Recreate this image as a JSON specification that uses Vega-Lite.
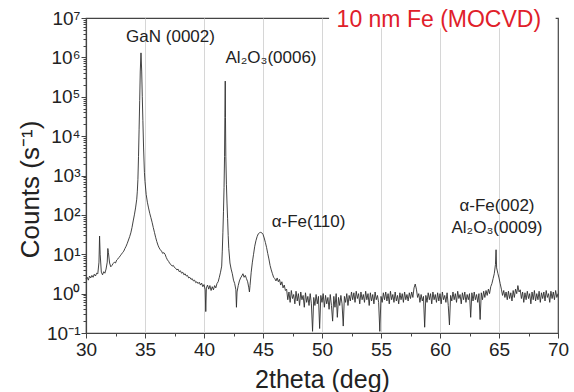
{
  "$schema": "https://vega.github.io/schema/vega-lite/v6.json",
  "width": 472,
  "height": 315,
  "autosize": {"type": "none"},
  "padding": {"left": 86, "top": 18, "right": 16, "bottom": 59},
  "background": "white",
  "config": {"view": {"stroke": "#444444", "strokeWidth": 1.2}, "font": "Liberation Sans"},
  "datasets": {
    "xrd": [
      {"x":30.0,"y":2.4},{"x":30.1,"y":2.6},{"x":30.2,"y":2.2},{"x":30.3,"y":2.8},{"x":30.4,"y":2.5},{"x":30.5,"y":2.9},{"x":30.6,"y":2.6},{"x":30.7,"y":3.1},{"x":30.8,"y":2.8},{"x":30.9,"y":3.3},
      {"x":31.0,"y":3.2},{"x":31.1,"y":6.3},{"x":31.15,"y":29},{"x":31.2,"y":10},{"x":31.3,"y":3.5},{"x":31.4,"y":3.0},{"x":31.5,"y":3.6},{"x":31.6,"y":3.3},{"x":31.7,"y":4.2},{"x":31.8,"y":6.3},{"x":31.85,"y":14},{"x":31.9,"y":11},
      {"x":32.0,"y":6},{"x":32.1,"y":4.8},{"x":32.2,"y":5.2},{"x":32.3,"y":5.8},{"x":32.4,"y":6.3},{"x":32.5,"y":6},{"x":32.6,"y":7.1},{"x":32.7,"y":7.6},{"x":32.8,"y":8.3},{"x":32.9,"y":9.1},
      {"x":33.0,"y":10},{"x":33.1,"y":11},{"x":33.2,"y":12},{"x":33.3,"y":14},{"x":33.4,"y":16},{"x":33.5,"y":19},{"x":33.6,"y":23},{"x":33.7,"y":28},{"x":33.8,"y":35},{"x":33.9,"y":48},
      {"x":34.0,"y":70},{"x":34.1,"y":100},{"x":34.2,"y":150},{"x":34.3,"y":250},{"x":34.35,"y":400},{"x":34.4,"y":800},{"x":34.45,"y":3000},{"x":34.5,"y":15000},{"x":34.55,"y":80000},{"x":34.6,"y":450000},
      {"x":34.66,"y":1300000},{"x":34.72,"y":450000},{"x":34.77,"y":100000},{"x":34.82,"y":25000},{"x":34.88,"y":5000},{"x":34.95,"y":1200},{"x":35.0,"y":700},
      {"x":35.1,"y":330},{"x":35.2,"y":210},{"x":35.3,"y":150},{"x":35.4,"y":110},{"x":35.5,"y":85},{"x":35.6,"y":65},{"x":35.7,"y":48},{"x":35.8,"y":36},{"x":35.9,"y":27},
      {"x":36.0,"y":21},{"x":36.1,"y":17},{"x":36.2,"y":14.5},{"x":36.3,"y":13},{"x":36.4,"y":12},{"x":36.5,"y":10.5},{"x":36.6,"y":11},{"x":36.7,"y":10},{"x":36.8,"y":8.3},{"x":36.9,"y":7.2},
      {"x":37.0,"y":6.6},{"x":37.1,"y":5.8},{"x":37.2,"y":5.5},{"x":37.3,"y":5.0},{"x":37.4,"y":5.2},{"x":37.5,"y":4.6},{"x":37.6,"y":4.4},{"x":37.7,"y":4.0},{"x":37.8,"y":4.2},{"x":37.9,"y":3.6},
      {"x":38.0,"y":3.8},{"x":38.1,"y":3.3},{"x":38.2,"y":3.5},{"x":38.3,"y":3.0},{"x":38.4,"y":3.2},{"x":38.5,"y":2.8},{"x":38.6,"y":2.9},{"x":38.7,"y":2.5},{"x":38.8,"y":2.6},{"x":38.9,"y":2.3},
      {"x":39.0,"y":2.4},{"x":39.1,"y":2.1},{"x":39.2,"y":2.2},{"x":39.3,"y":1.9},{"x":39.4,"y":2.0},{"x":39.5,"y":1.8},{"x":39.6,"y":1.95},{"x":39.7,"y":1.65},{"x":39.8,"y":1.85},{"x":39.9,"y":1.5},
      {"x":40.0,"y":1.7},{"x":40.1,"y":1.25},{"x":40.15,"y":0.35},{"x":40.2,"y":1.4},{"x":40.3,"y":1.65},{"x":40.4,"y":1.3},{"x":40.5,"y":1.6},{"x":40.6,"y":1.2},{"x":40.7,"y":1.5},{"x":40.8,"y":1.25},{"x":40.9,"y":1.6},
      {"x":41.0,"y":1.4},{"x":41.1,"y":1.8},{"x":41.2,"y":2.0},{"x":41.3,"y":2.6},{"x":41.4,"y":3.5},{"x":41.5,"y":5},{"x":41.55,"y":12},{"x":41.6,"y":35},{"x":41.65,"y":120},{"x":41.7,"y":500},
      {"x":41.74,"y":3000},{"x":41.77,"y":30000},{"x":41.8,"y":250000},{"x":41.82,"y":30000},{"x":41.85,"y":3000},{"x":41.9,"y":600},{"x":41.95,"y":200},{"x":42.0,"y":80},{"x":42.05,"y":30},{"x":42.1,"y":14},
      {"x":42.2,"y":6},{"x":42.3,"y":4.2},{"x":42.4,"y":3.2},{"x":42.5,"y":2.2},{"x":42.6,"y":1.8},{"x":42.7,"y":1.25},{"x":42.75,"y":0.45},{"x":42.8,"y":1.1},{"x":42.9,"y":1.6},
      {"x":43.0,"y":2.1},{"x":43.1,"y":2.5},{"x":43.2,"y":2.8},{"x":43.3,"y":3.2},{"x":43.4,"y":2.6},{"x":43.5,"y":2.9},{"x":43.6,"y":2.4},{"x":43.7,"y":2.0},{"x":43.8,"y":1.4},{"x":43.85,"y":1.1},{"x":43.9,"y":1.6},
      {"x":44.0,"y":3.5},{"x":44.1,"y":6.3},{"x":44.2,"y":10},{"x":44.3,"y":16},{"x":44.4,"y":22},{"x":44.5,"y":28},{"x":44.6,"y":33},{"x":44.7,"y":35},{"x":44.8,"y":36},{"x":44.9,"y":35},
      {"x":45.0,"y":32},{"x":45.1,"y":26},{"x":45.2,"y":20},{"x":45.3,"y":15},{"x":45.4,"y":10.5},{"x":45.5,"y":7.6},{"x":45.6,"y":5.2},{"x":45.7,"y":4.0},{"x":45.8,"y":3.2},{"x":45.9,"y":2.6},
      {"x":46.0,"y":2.4},{"x":46.1,"y":2.1},{"x":46.2,"y":2.5},{"x":46.3,"y":2.0},{"x":46.4,"y":2.3},{"x":46.5,"y":1.65},{"x":46.6,"y":2.0},{"x":46.7,"y":1.4},{"x":46.8,"y":1.65},{"x":46.9,"y":1.2},
      {"x":47.0,"y":1.3},{"x":47.1,"y":0.7},{"x":47.2,"y":1.1},{"x":47.3,"y":0.6},{"x":47.4,"y":1.2},{"x":47.5,"y":0.75},{"x":47.6,"y":0.95},{"x":47.7,"y":0.55},{"x":47.8,"y":1.15},{"x":47.9,"y":0.65},
      {"x":48.0,"y":1.0},{"x":48.1,"y":0.5},{"x":48.2,"y":1.1},{"x":48.3,"y":0.7},{"x":48.4,"y":0.9},{"x":48.5,"y":0.45},{"x":48.6,"y":1.05},{"x":48.7,"y":0.6},{"x":48.8,"y":0.85},{"x":48.9,"y":0.5},
      {"x":49.0,"y":1.0},{"x":49.1,"y":0.55},{"x":49.2,"y":0.11},{"x":49.3,"y":0.8},{"x":49.4,"y":0.5},{"x":49.5,"y":0.95},{"x":49.6,"y":0.55},{"x":49.7,"y":0.85},{"x":49.8,"y":0.13},{"x":49.9,"y":0.9},
      {"x":50.0,"y":0.6},{"x":50.1,"y":1.0},{"x":50.2,"y":0.45},{"x":50.3,"y":0.9},{"x":50.4,"y":0.55},{"x":50.5,"y":0.8},{"x":50.6,"y":0.4},{"x":50.7,"y":0.95},{"x":50.8,"y":0.5},{"x":50.9,"y":0.2},
      {"x":51.0,"y":0.85},{"x":51.1,"y":0.45},{"x":51.2,"y":1.0},{"x":51.3,"y":0.25},{"x":51.4,"y":0.8},{"x":51.5,"y":0.5},{"x":51.6,"y":0.9},{"x":51.7,"y":0.55},{"x":51.8,"y":0.15},{"x":51.9,"y":0.85},
      {"x":52.0,"y":0.6},{"x":52.1,"y":1.0},{"x":52.2,"y":0.5},{"x":52.3,"y":0.9},{"x":52.4,"y":0.65},{"x":52.5,"y":1.1},{"x":52.6,"y":0.7},{"x":52.7,"y":1.05},{"x":52.8,"y":0.6},{"x":52.9,"y":1.15},
      {"x":53.0,"y":0.75},{"x":53.1,"y":1.0},{"x":53.2,"y":0.55},{"x":53.3,"y":1.1},{"x":53.4,"y":0.7},{"x":53.5,"y":0.95},{"x":53.6,"y":0.6},{"x":53.7,"y":1.15},{"x":53.8,"y":0.7},{"x":53.9,"y":1.0},
      {"x":54.0,"y":0.5},{"x":54.1,"y":1.05},{"x":54.2,"y":0.65},{"x":54.3,"y":0.95},{"x":54.4,"y":0.55},{"x":54.5,"y":1.1},{"x":54.6,"y":0.7},{"x":54.7,"y":0.9},{"x":54.8,"y":0.6},{"x":54.9,"y":0.11},
      {"x":55.0,"y":0.85},{"x":55.1,"y":0.6},{"x":55.2,"y":1.05},{"x":55.3,"y":0.7},{"x":55.4,"y":1.1},{"x":55.5,"y":0.65},{"x":55.6,"y":1.0},{"x":55.7,"y":0.55},{"x":55.8,"y":1.15},{"x":55.9,"y":0.7},
      {"x":56.0,"y":0.95},{"x":56.1,"y":0.6},{"x":56.2,"y":1.1},{"x":56.3,"y":0.65},{"x":56.4,"y":0.9},{"x":56.5,"y":0.55},{"x":56.6,"y":1.05},{"x":56.7,"y":0.7},{"x":56.8,"y":1.0},{"x":56.9,"y":0.6},
      {"x":57.0,"y":1.1},{"x":57.1,"y":0.7},{"x":57.2,"y":0.95},{"x":57.3,"y":0.65},{"x":57.4,"y":1.05},{"x":57.5,"y":0.75},{"x":57.6,"y":1.1},{"x":57.7,"y":0.8},{"x":57.8,"y":1.4},{"x":57.9,"y":1.75},
      {"x":58.0,"y":1.3},{"x":58.1,"y":0.8},{"x":58.2,"y":1.0},{"x":58.3,"y":0.6},{"x":58.4,"y":0.95},{"x":58.5,"y":0.65},{"x":58.6,"y":0.85},{"x":58.7,"y":0.14},{"x":58.8,"y":0.9},{"x":58.9,"y":0.6},
      {"x":59.0,"y":1.05},{"x":59.1,"y":0.7},{"x":59.2,"y":1.0},{"x":59.3,"y":0.55},{"x":59.4,"y":1.1},{"x":59.5,"y":0.7},{"x":59.6,"y":0.95},{"x":59.7,"y":0.6},{"x":59.8,"y":1.05},{"x":59.9,"y":0.65},
      {"x":60.0,"y":1.0},{"x":60.1,"y":0.55},{"x":60.2,"y":1.1},{"x":60.3,"y":0.7},{"x":60.4,"y":0.9},{"x":60.5,"y":0.6},{"x":60.6,"y":1.05},{"x":60.7,"y":0.5},{"x":60.8,"y":0.16},{"x":60.9,"y":0.9},
      {"x":61.0,"y":0.65},{"x":61.1,"y":1.1},{"x":61.2,"y":0.7},{"x":61.3,"y":1.0},{"x":61.4,"y":0.6},{"x":61.5,"y":1.15},{"x":61.6,"y":0.75},{"x":61.7,"y":0.95},{"x":61.8,"y":0.55},{"x":61.9,"y":1.05},
      {"x":62.0,"y":0.7},{"x":62.1,"y":1.1},{"x":62.2,"y":0.6},{"x":62.3,"y":0.95},{"x":62.4,"y":0.7},{"x":62.5,"y":1.0},{"x":62.6,"y":0.25},{"x":62.7,"y":1.05},{"x":62.8,"y":0.65},{"x":62.9,"y":1.1},
      {"x":63.0,"y":0.7},{"x":63.1,"y":0.95},{"x":63.2,"y":0.6},{"x":63.3,"y":1.0},{"x":63.4,"y":0.22},{"x":63.5,"y":1.05},{"x":63.6,"y":0.7},{"x":63.7,"y":1.15},{"x":63.8,"y":0.8},{"x":63.9,"y":1.2},
      {"x":64.0,"y":0.9},{"x":64.1,"y":1.3},{"x":64.2,"y":1.0},{"x":64.3,"y":1.5},{"x":64.4,"y":1.8},{"x":64.5,"y":2.4},{"x":64.6,"y":3.2},{"x":64.7,"y":5.5},{"x":64.75,"y":13},{"x":64.8,"y":4.5},{"x":64.9,"y":3.3},
      {"x":65.0,"y":2.5},{"x":65.1,"y":1.8},{"x":65.2,"y":1.3},{"x":65.3,"y":0.9},{"x":65.4,"y":1.2},{"x":65.5,"y":0.8},{"x":65.6,"y":1.1},{"x":65.7,"y":0.7},{"x":65.8,"y":1.15},{"x":65.9,"y":0.75},
      {"x":66.0,"y":1.05},{"x":66.1,"y":0.65},{"x":66.2,"y":1.2},{"x":66.3,"y":0.8},{"x":66.4,"y":1.3},{"x":66.5,"y":1.0},{"x":66.6,"y":1.6},{"x":66.7,"y":1.1},{"x":66.8,"y":1.25},{"x":66.9,"y":0.75},
      {"x":67.0,"y":1.1},{"x":67.1,"y":0.6},{"x":67.2,"y":1.05},{"x":67.3,"y":0.7},{"x":67.4,"y":1.15},{"x":67.5,"y":0.75},{"x":67.6,"y":1.0},{"x":67.7,"y":0.55},{"x":67.8,"y":1.1},{"x":67.9,"y":0.7},
      {"x":68.0,"y":1.2},{"x":68.1,"y":0.65},{"x":68.2,"y":1.0},{"x":68.3,"y":0.7},{"x":68.4,"y":1.15},{"x":68.5,"y":0.6},{"x":68.6,"y":1.05},{"x":68.7,"y":0.75},{"x":68.8,"y":1.1},{"x":68.9,"y":0.65},
      {"x":69.0,"y":1.2},{"x":69.1,"y":0.8},{"x":69.2,"y":1.0},{"x":69.3,"y":0.6},{"x":69.4,"y":1.15},{"x":69.5,"y":0.75},{"x":69.6,"y":1.1},{"x":69.7,"y":0.7},{"x":69.8,"y":1.2},{"x":69.9,"y":0.8},{"x":70.0,"y":1.0}
    ],
    "annot": [
      {"x":37.16,"y":3200000,"t":"GaN (0002)"},
      {"x":45.68,"y":960000,"t":"Al₂O₃(0006)"},
      {"x":48.86,"y":66,"t":"α-Fe(110)"},
      {"x":64.83,"y":170,"t":"α-Fe(002)"},
      {"x":64.83,"y":47,"t":"Al₂O₃(0009)"}
    ],
    "mask": [
      {"x":50.6,"x2":69.8,"y":18000000,"y2":5500000}
    ],
    "heading": [
      {"x":59.9,"y":10000000,"t":"10 nm Fe (MOCVD)"}
    ]
  },
  "encoding": {
    "x": {
      "field": "x",
      "type": "quantitative",
      "scale": {"domain": [30, 70], "nice": false, "zero": false},
      "axis": {
        "title": "2theta (deg)",
        "titleFontSize": 25,
        "titleFontWeight": "normal",
        "titleColor": "#222",
        "titlePadding": 8,
        "values": [30,32.5,35,37.5,40,42.5,45,47.5,50,52.5,55,57.5,60,62.5,65,67.5,70],
        "labelExpr": "datum.value % 5 == 0 ? format(datum.value, 'd') : ''",
        "labelFontSize": 19,
        "labelColor": "#222",
        "labelPadding": 2,
        "labelFlush": false,
        "labelOverlap": false,
        "tickSize": {"condition": {"test": "datum.value % 5 == 0", "value": 5}, "value": 3},
        "tickColor": "#444",
        "domainColor": "#444",
        "domainWidth": 1.2,
        "grid": true,
        "gridColor": "#d6d6d6",
        "gridWidth": 1,
        "gridOpacity": {"condition": {"test": "datum.value % 5 == 0 && datum.value > 30 && datum.value < 70", "value": 1}, "value": 0}
      }
    },
    "y": {
      "field": "y",
      "type": "quantitative",
      "scale": {"type": "log", "domain": [0.1, 10000000], "nice": false},
      "axis": {
        "title": "Counts (s⁻¹)",
        "titleFontSize": 26,
        "titleFontWeight": "normal",
        "titleColor": "#222",
        "titlePadding": 3,
        "titleY": 171,
        "values": [0.1,0.2,0.3,0.4,0.5,0.6,0.7,0.8,0.9,1,2,3,4,5,6,7,8,9,10,20,30,40,50,60,70,80,90,100,200,300,400,500,600,700,800,900,1000,2000,3000,4000,5000,6000,7000,8000,9000,10000,20000,30000,40000,50000,60000,70000,80000,90000,100000,200000,300000,400000,500000,600000,700000,800000,900000,1000000,2000000,3000000,4000000,5000000,6000000,7000000,8000000,9000000,10000000],
        "labelExpr": "abs(log(datum.value)/LN10 - round(log(datum.value)/LN10)) < 0.001 ? '10' + ['⁻¹','⁰','¹','²','³','⁴','⁵','⁶','⁷'][round(log(datum.value)/LN10) + 1] : ''",
        "labelFontSize": 19,
        "labelColor": "#222",
        "labelPadding": 1,
        "labelFlush": false,
        "labelOverlap": false,
        "tickSize": {"condition": {"test": "abs(log(datum.value)/LN10 - round(log(datum.value)/LN10)) < 0.001", "value": 5}, "value": 3},
        "tickColor": "#444",
        "domainColor": "#444",
        "domainWidth": 1.2,
        "grid": false
      }
    }
  },
  "layer": [
    {
      "data": {"name": "xrd"},
      "mark": {"type": "line", "stroke": "#2e2e2e", "strokeWidth": 0.9}
    },
    {
      "data": {"name": "mask"},
      "mark": {"type": "rect", "fill": "white", "stroke": null, "clip": false},
      "encoding": {"x2": {"field": "x2"}, "y2": {"field": "y2"}}
    },
    {
      "data": {"name": "annot"},
      "mark": {"type": "text", "fontSize": 17, "color": "#222", "baseline": "middle", "align": "center"},
      "encoding": {"text": {"field": "t"}}
    },
    {
      "data": {"name": "heading"},
      "mark": {"type": "text", "fontSize": 23, "color": "#e0202a", "baseline": "middle", "align": "center", "dy": 2},
      "encoding": {"text": {"field": "t"}}
    }
  ]
}
